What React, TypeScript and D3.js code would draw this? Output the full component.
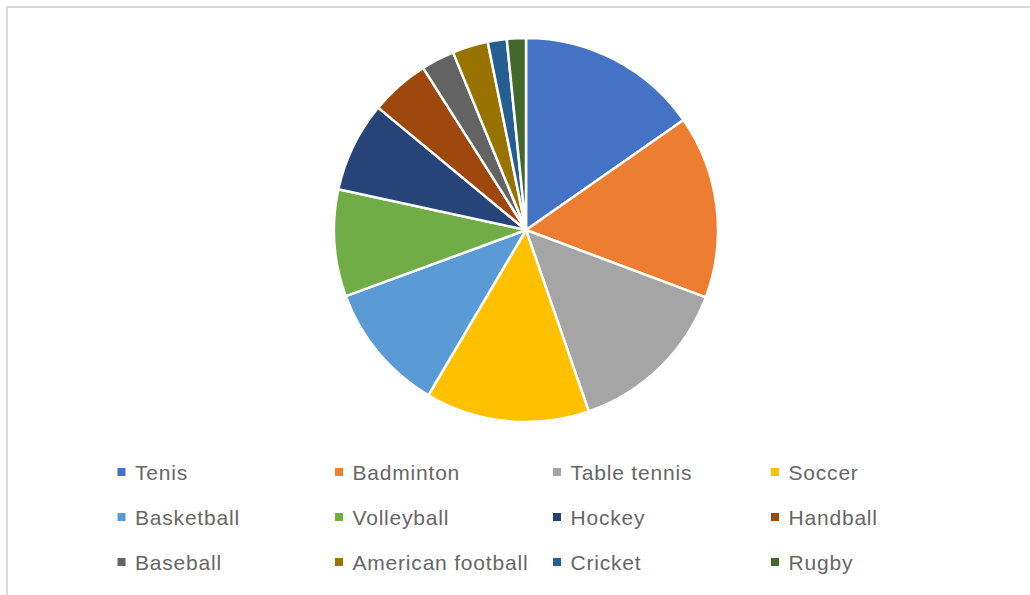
import React from "react";
import * as d3 from "d3";

const categories = ["Tenis", "Badminton", "Table tennis", "Soccer", "Basketball", "Volleyball", "Hockey", "Handball", "Baseball", "American football", "Cricket", "Rugby"];
const values = [15.3, 15.4, 14.0, 13.8, 10.9, 9.0, 7.6, 5.0, 2.8, 3.0, 1.6, 1.6];
const colors = ["#4472C4", "#ED7D31", "#A5A5A5", "#FFC000", "#5B9BD5", "#70AD47", "#264478", "#9E480E", "#636363", "#997300", "#255E91", "#43682B"];

export default function App() {
  const W = 1030, H = 595;
  const cx = 526, cy = 230, r = 192;
  const pie = d3.pie<number>().sort(null).value((d) => d);
  const arcs = pie(values);
  const arc = d3.arc<d3.PieArcDatum<number>>().innerRadius(0).outerRadius(r);
  const colX = [121.5, 339, 557, 775];
  const rowY = [472, 517, 562];
  return (
    <svg width={W} height={H} style={{ position: "absolute", left: 0, top: 0 }}>
      <rect x={0} y={0} width={W} height={H} fill="#fff" />
      <rect x={7} y={7} width={W + 10} height={H + 10} fill="#fff" stroke="#d9d9d9" strokeWidth={2} />
      <g transform={`translate(${cx},${cy})`}>
        {arcs.map((a, i) => (
          <path key={i} d={arc(a) || ""} fill={colors[i]} stroke="#fff" strokeWidth={2.5} strokeLinejoin="round" />
        ))}
      </g>
      {categories.map((c, i) => {
        const x = colX[i % 4];
        const y = rowY[Math.floor(i / 4)];
        return (
          <g key={c}>
            <rect x={x - 4} y={y - 4} width={8} height={8} fill={colors[i]} />
            <text x={x + 13.5} y={y + 7.5} fontFamily="Liberation Sans, Arial, sans-serif" fontSize={21} letterSpacing={0.8} fill="#666666">{c}</text>
          </g>
        );
      })}
    </svg>
  );
}
